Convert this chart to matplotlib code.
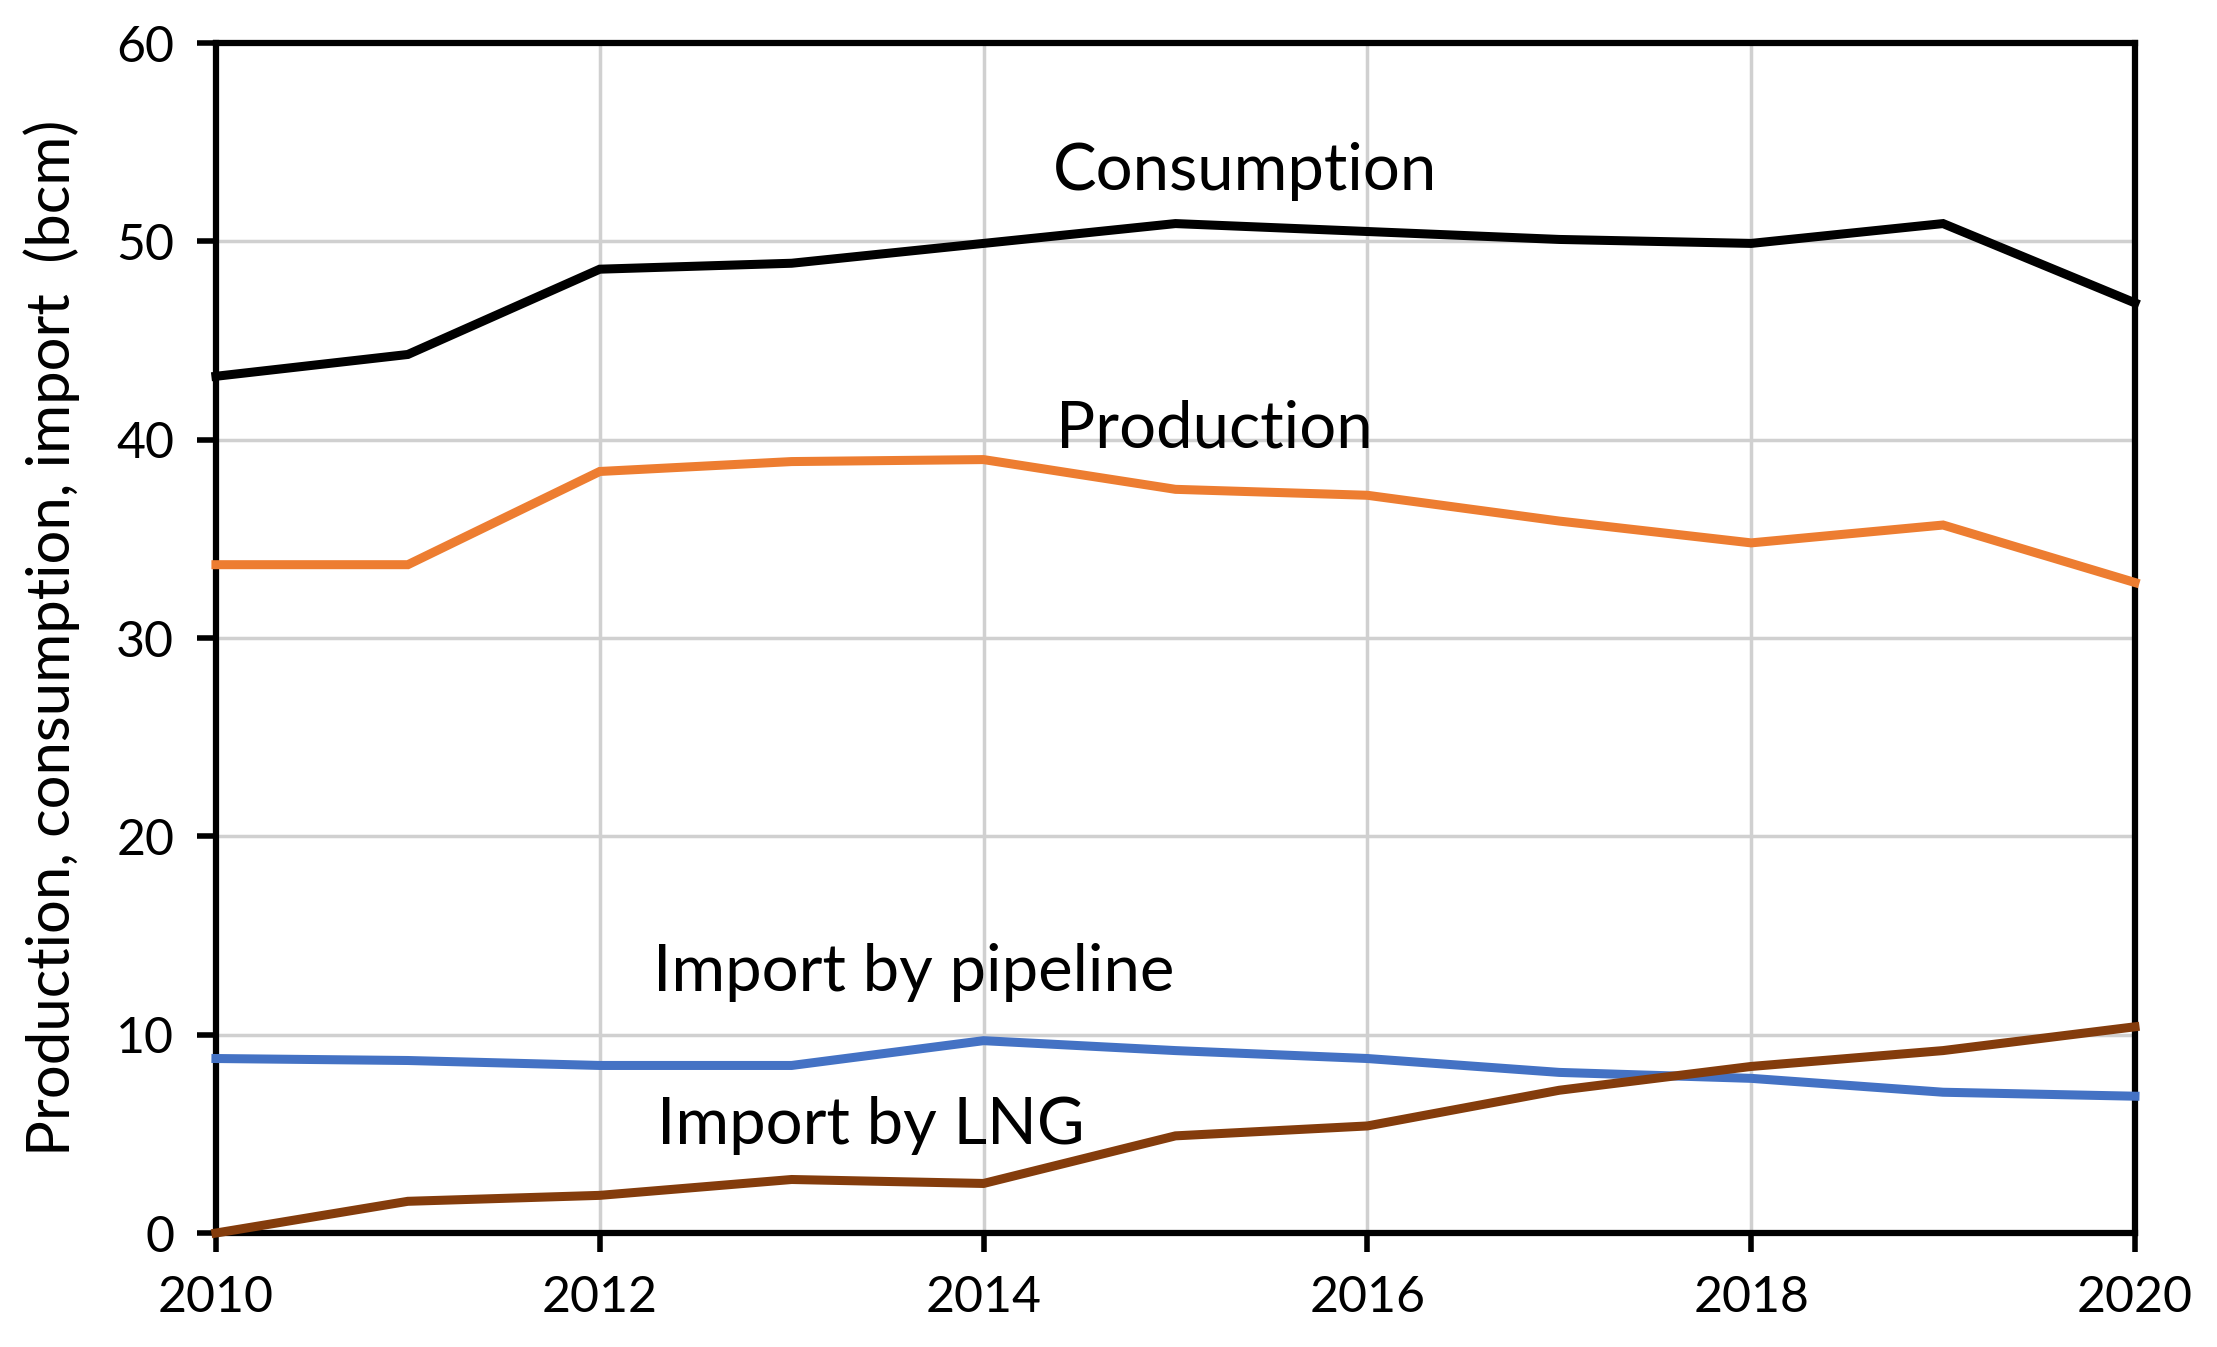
import matplotlib
matplotlib.use("Agg")
import matplotlib.pyplot as plt

plt.rcParams['font.family'] = ['Lato', 'DejaVu Sans']

# data (bcm)
years = [2010, 2011, 2012, 2013, 2014, 2015, 2016, 2017, 2018, 2019, 2020]
consumption = [43.2, 44.3, 48.6, 48.9, 49.9, 50.9, 50.5, 50.1, 49.9, 50.9, 46.9]
production = [33.7, 33.7, 38.4, 38.9, 39.0, 37.5, 37.2, 35.9, 34.8, 35.7, 32.8]
pipeline = [8.8, 8.7, 8.45, 8.45, 9.7, 9.2, 8.8, 8.1, 7.8, 7.1, 6.9]
lng = [0.0, 1.6, 1.9, 2.7, 2.5, 4.9, 5.4, 7.2, 8.4, 9.2, 10.4]

series_labels = ["Consumption", "Production", "Import by pipeline", "Import by LNG"]
series_colors = ["#000000", "#ED7D31", "#4472C4", "#843C0C"]
label_pos = [(2014.36, 52.6), (2014.38, 39.6), (2012.28, 12.2), (2012.30, 4.5)]

fig = plt.figure(figsize=(22.17, 13.47), dpi=100)
ax = fig.add_axes([0.0974, 0.0846, 0.8656, 0.8834])

for vals, lab, col, pos in zip([consumption, production, pipeline, lng],
                               series_labels, series_colors, label_pos):
    ax.plot(years, vals, color=col, linewidth=6.5, solid_joinstyle="miter", zorder=3, clip_on=False)
    ax.text(pos[0], pos[1], lab, fontsize=47, ha="left", va="baseline", zorder=4)

ax.set_xlim(2010, 2020)
ax.set_ylim(0, 60)
ax.set_xticks(range(2010, 2021, 2))
ax.set_yticks(range(0, 61, 10))
ax.grid(True, color="#d0d0d0", linewidth=2.5, zorder=0)
ax.set_axisbelow(True)

for s in ax.spines.values():
    s.set_linewidth(4.5)
    s.set_color("black")

ax.tick_params(axis="both", direction="out", length=14, width=4, labelsize=36, color="black")
ax.tick_params(axis="x", pad=16)
ax.tick_params(axis="y", pad=16)

ax.set_ylabel("Production, consumption, import  (bcm)", fontsize=43, labelpad=26)

fig.savefig("out.png", dpi=100)
